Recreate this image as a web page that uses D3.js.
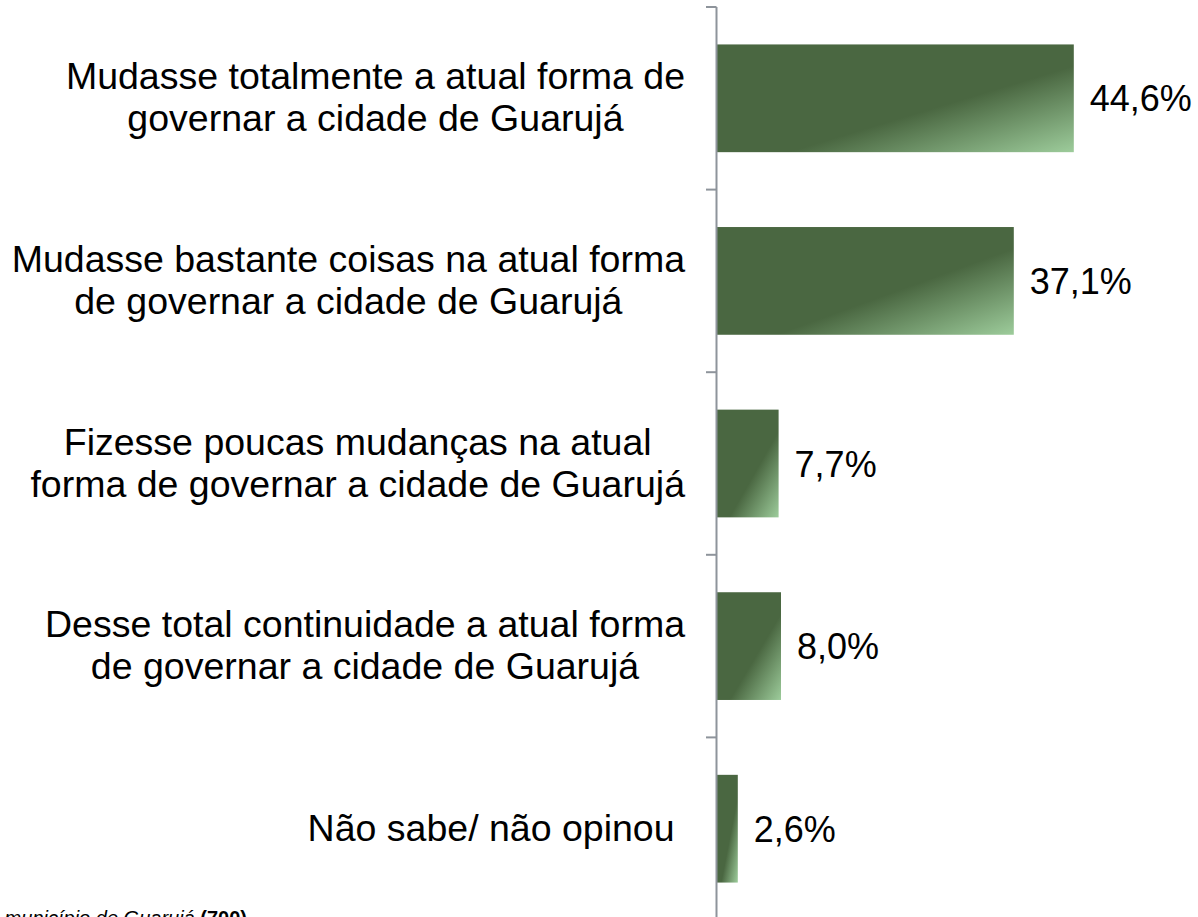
<!DOCTYPE html>
<html>
<head>
<meta charset="utf-8">
<script src="https://cdn.jsdelivr.net/npm/d3@7"></script>
<style>
	body { margin: 0; background: #fff; overflow: hidden; }
	svg { display: block; font-family: "Liberation Sans", Arial, sans-serif; }
</style>
</head>
<body>
<script>
// answers (each label split into its lines) and percentages
let categories = [
	['Mudasse totalmente a atual forma de', 'governar a cidade de Guarujá'],
	['Mudasse bastante coisas na atual forma', 'de governar a cidade de Guarujá'],
	['Fizesse poucas mudanças na atual', 'forma de governar a cidade de Guarujá'],
	['Desse total continuidade a atual forma', 'de governar a cidade de Guarujá'],
	['Não sabe/ não opinou ']
];
let values = [44.6, 37.1, 7.7, 8.0, 2.6];
let valueLabels = ['44,6%', '37,1%', '7,7%', '8,0%', '2,6%'];

let width = 1198, height = 917;

let svg = d3.select('body').append('svg')
	.attr('width', width)
	.attr('height', height);

// gradient for bars
let defs = svg.append('defs');
let grad = defs.append('linearGradient')
	.attr('id', 'barGrad')
	.attr('x1', 0).attr('y1', 0)
	.attr('x2', 1).attr('y2', 1);
grad.append('stop').attr('offset', 0).attr('stop-color', '#4a6741');
grad.append('stop').attr('offset', 0.6).attr('stop-color', '#4a6741');
grad.append('stop').attr('offset', 1).attr('stop-color', '#9dcc9b');

//scales
let xScale = d3.scaleLinear()
	.domain([0, 60])
	.range([717, 1197]);

let yScale = d3.scaleBand()
	.domain(d3.range(categories.length))
	.range([7, 920])
	.paddingInner(0.41)
	.paddingOuter(0.205);

//bars
svg.append('g')
	.selectAll('rect')
	.data(values)
	.enter()
	.append('rect')
	.attr('x', xScale(0))
	.attr('y', function(d, i) { return yScale(i); })
	.attr('width', function(d) { return xScale(d) - xScale(0); })
	.attr('height', yScale.bandwidth())
	.attr('fill', 'url(#barGrad)');

//axis with ticks between the categories
let step = yScale.step();
let tickPos = d3.range(categories.length + 1).map(function(i) {
	return 7 + step * i;
});
let axis = svg.append('g').attr('stroke', '#8e949b').attr('stroke-width', 2);
axis.append('line')
	.attr('x1', 716.5).attr('x2', 716.5)
	.attr('y1', 7).attr('y2', 930);
axis.selectAll('.tick')
	.data(tickPos)
	.enter()
	.append('line')
	.attr('x1', 706).attr('x2', 716.5)
	.attr('y1', function(d) { return d; })
	.attr('y2', function(d) { return d; });

//value labels
svg.append('g')
	.selectAll('text')
	.data(values)
	.enter()
	.append('text')
	.attr('x', function(d) { return xScale(d) + 16; })
	.attr('y', function(d, i) { return yScale(i) + yScale.bandwidth() / 2 + 13; })
	.attr('font-size', '36px')
	.attr('fill', '#000')
	.text(function(d, i) { return valueLabels[i]; });

//category labels, lines centred within block, block right aligned
let labelRight = 685;
let lineH = 42;
categories.forEach(function(lines, i) {
	let cy = yScale(i) + yScale.bandwidth() / 2;
	let g = svg.append('g');
	let texts = g.selectAll('text')
		.data(lines)
		.enter()
		.append('text')
		.attr('font-size', '37.5px')
		.attr('fill', '#000')
		.style('white-space', 'pre')
		.attr('text-anchor', 'middle')
		.attr('y', function(d, j) { return cy + (j - (lines.length - 1) / 2) * lineH + 12; })
		.text(function(d) { return d; });
	let maxW = d3.max(texts.nodes(), function(n) { return n.getComputedTextLength(); });
	texts.attr('x', labelRight - maxW / 2);
});

//source note at the bottom (cut off by the frame, as in the original)
let note = svg.append('text')
	.attr('x', 247)
	.attr('y', 925)
	.attr('text-anchor', 'end')
	.attr('font-size', '20px')
	.attr('font-style', 'italic')
	.attr('fill', '#000');
note.append('tspan').text('Base: Eleitores do município de Guarujá ');
note.append('tspan').attr('font-weight', 'bold').attr('font-style', 'normal').text('(700)');
</script>
</body>
</html>
